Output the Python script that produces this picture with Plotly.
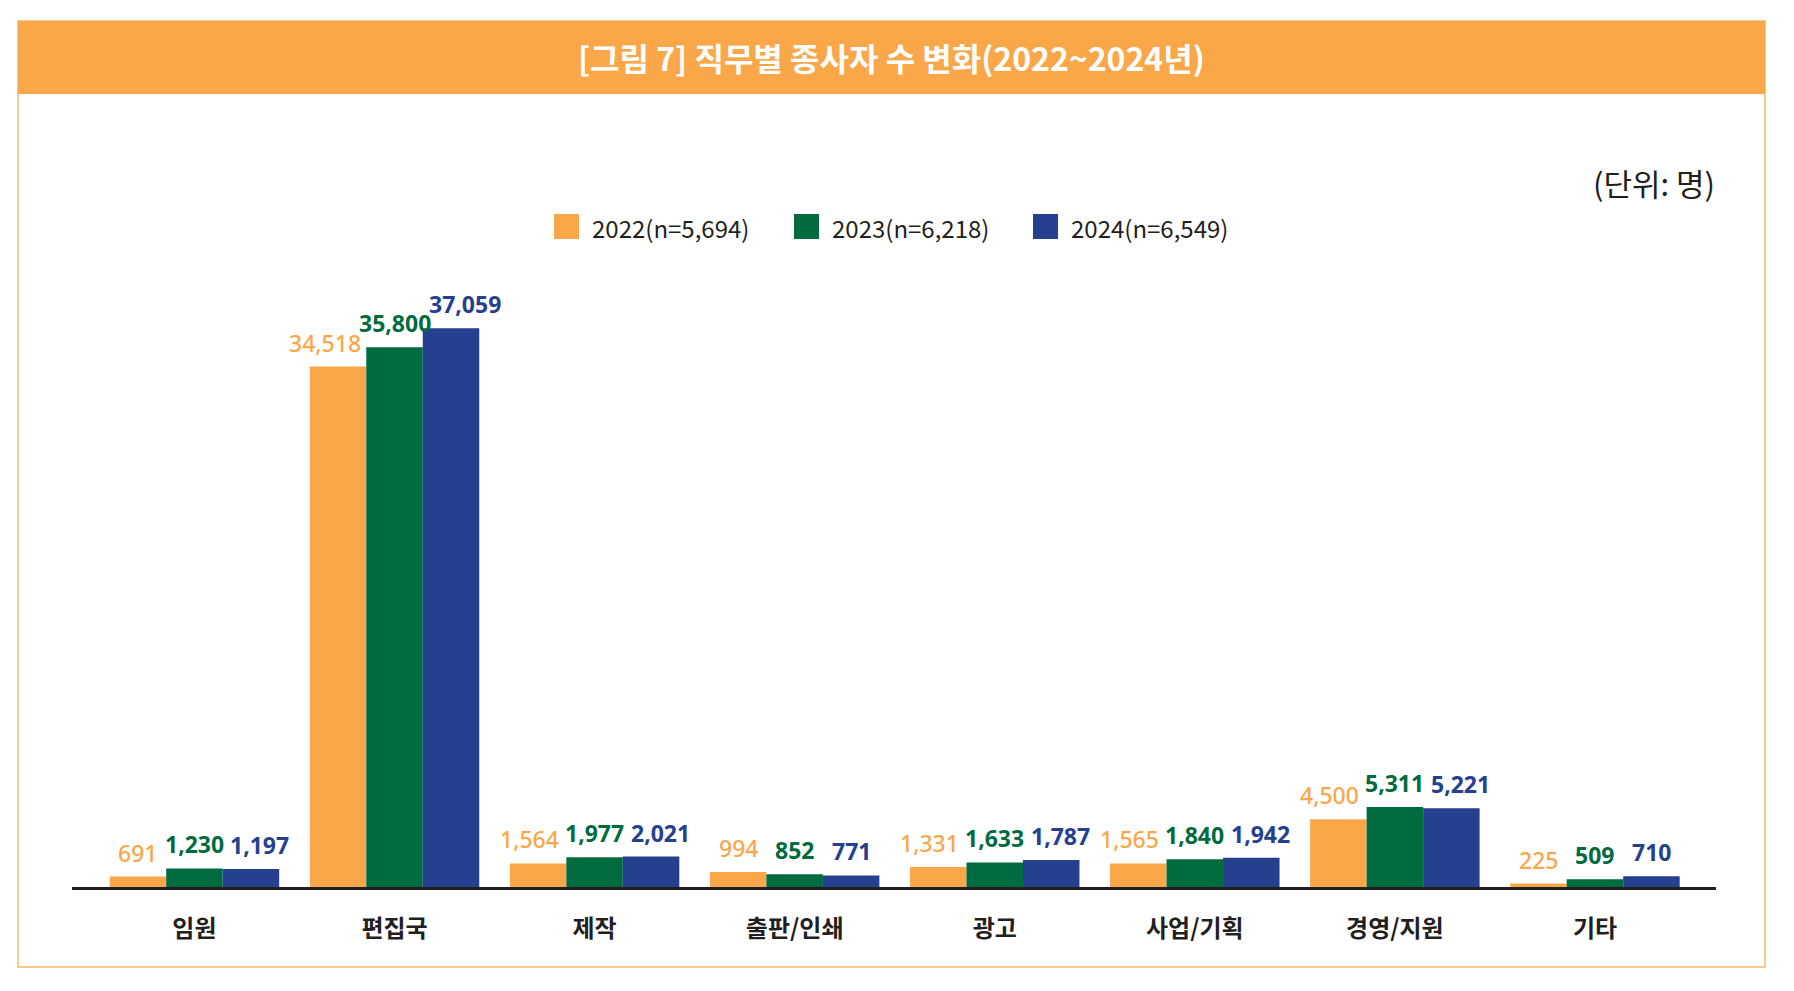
import plotly.graph_objects as go

categories = ["임원", "편집국", "제작", "출판/인쇄", "광고", "사업/기획", "경영/지원", "기타"]
series_names = ["2022(n=5,694)", "2023(n=6,218)", "2024(n=6,549)"]
v2022 = [691, 34518, 1564, 994, 1331, 1565, 4500, 225]
v2023 = [1230, 35800, 1977, 852, 1633, 1840, 5311, 509]
v2024 = [1197, 37059, 2021, 771, 1787, 1942, 5221, 710]

title = "[그림 7] 직무별 종사자 수 변화(2022~2024년)"
unit = "(단위: 명)"

colors = ["#FAA74A", "#006B3F", "#24408F"]
weights = [500, "bold", "bold"]

W, H = 1794, 991
OFF = 8  # page body margin in the browser
L, R, T, B = 64, 86, 262, 112
PW, PH = W - L - R, H - T - B
KR = "Noto Sans CJK KR"
NUM = "Noto Sans"


def px(x):
    return (x - OFF - L) / PW


def py(y):
    return (H - B - (y - OFF)) / PH


fig = go.Figure()
all_vals = [v2022, v2023, v2024]
for name, vals, c in zip(series_names, all_vals, colors):
    fig.add_trace(go.Bar(
        x=categories, y=vals, name=name,
        marker=dict(color=c, line=dict(width=0)),
        showlegend=False,
    ))

annotations = []
# value labels above each bar, wide labels nudged apart
for j, (vals, c, w) in enumerate(zip(all_vals, colors, weights)):
    for i, v in enumerate(vals):
        txt = f"{v:,}"
        annotations.append(dict(
            x=i + (j - 1) * 0.2825, y=v, xref="x", yref="y",
            text=txt, showarrow=False, yanchor="bottom", yshift=6,
            xshift=(j - 1) * max(0, len(txt) - 3) * 4.5,
            font=dict(family=NUM, size=23, color=c, weight=w),
        ))

# title band text
annotations.append(dict(
    x=px(891), y=py(57), xref="paper", yref="paper", text=f"<b>{title}</b>",
    showarrow=False, xanchor="center", yanchor="middle",
    font=dict(family=KR, size=32, color="white"),
))
# unit label
annotations.append(dict(
    x=px(1717), y=py(183), xref="paper", yref="paper", text=unit,
    showarrow=False, xanchor="right", yanchor="middle",
    font=dict(family=KR, size=31, color="#231F20"),
))

shapes = [
    dict(type="rect", xref="paper", yref="paper",
         x0=px(18), x1=px(1765), y0=py(967), y1=py(21),
         line=dict(color="#FAB66A", width=1.5), fillcolor="rgba(0,0,0,0)", layer="below"),
    dict(type="rect", xref="paper", yref="paper",
         x0=px(18), x1=px(1765), y0=py(94), y1=py(21),
         line=dict(width=0), fillcolor="#FAA74A", layer="below"),
]

# manual legend with large squares
legend_x = [554, 794, 1033]
for name, c, lx in zip(series_names, colors, legend_x):
    shapes.append(dict(type="rect", xref="paper", yref="paper",
                       x0=px(lx), x1=px(lx + 25), y0=py(239), y1=py(214),
                       line=dict(width=0), fillcolor=c))
    annotations.append(dict(
        x=px(lx + 36), y=py(227), xref="paper", yref="paper", text=name,
        showarrow=False, xanchor="left", yanchor="middle",
        font=dict(family=KR, size=24, color="#231F20"),
    ))

fig.update_layout(
    width=W, height=H,
    margin=dict(l=L, r=R, t=T, b=B),
    paper_bgcolor="white", plot_bgcolor="white",
    barmode="group", bargap=0.153, bargroupgap=0,
    xaxis=dict(
        range=[-0.612, 7.605], showline=True, linecolor="#231F20", linewidth=2.5,
        showgrid=False, ticks="", ticklabelstandoff=18,
        tickfont=dict(family=KR, size=24, color="#231F20", weight="bold"),
    ),
    yaxis=dict(range=[0, 40926], visible=False, showgrid=False),
    annotations=annotations,
    shapes=shapes,
)

fig.write_html("out.html")
